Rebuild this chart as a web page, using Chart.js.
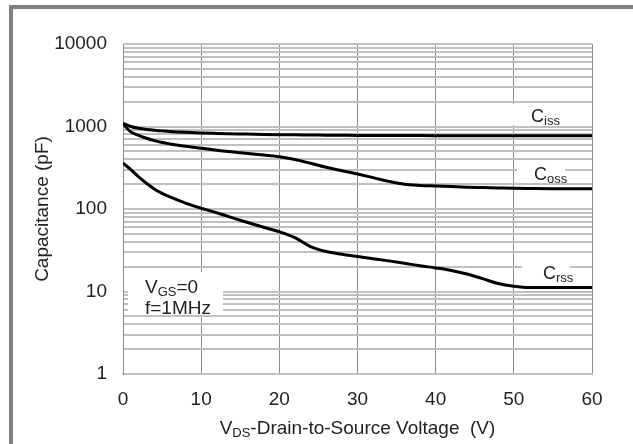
<!DOCTYPE html>
<html>
<head>
<meta charset="utf-8">
<script src="https://cdn.jsdelivr.net/npm/chart.js@4.4.0/dist/chart.umd.min.js"></script>
<style>
body { margin: 0; background: #fff; }
#wrap { position: relative; width: 633px; height: 444px; }
</style>
</head>
<body>
<div id="wrap"><canvas id="chart" width="633" height="444"></canvas></div>
<script>
// drain-source voltage (V)
var voltage = [0, 1, 2, 3, 4, 5, 6, 8, 10, 12, 15, 18, 20, 22, 24, 26, 28, 30, 32, 34, 36, 38, 40, 42, 44, 46, 48, 50, 52, 55, 60];
// capacitances (pF)
var ciss = [1090, 1000, 950, 920, 900, 885, 870, 850, 835, 825, 812, 800, 795, 792, 788, 786, 783, 780, 779, 778, 777, 776, 775, 774, 773, 772, 771, 770, 770, 770, 770];
var coss = [1080, 860, 780, 720, 675, 640, 615, 575, 545, 515, 480, 450, 430, 398, 358, 320, 291, 265, 240, 216, 199, 193, 190, 187, 184, 182, 180, 178, 177, 176, 176];
var crss = [360, 300, 245, 205, 175, 155, 140, 118, 102, 90, 73, 60, 53, 45, 35, 30.5, 28.3, 26.6, 25, 23.5, 22, 20.5, 19.3, 18, 16.3, 14.3, 12.5, 11.6, 11.2, 11.2, 11.2];

var yTicks = [1, 10, 100, 1000, 10000];
var xStep = 10;

var FONT = "'Liberation Sans', Arial, sans-serif";
var TXT = '#222';

// all log grid lines: 1..9 of each decade
var yGrid = [];
for (var d = 0; d < yTicks.length - 1; d++) {
  for (var k = 1; k < 10; k++) yGrid.push(yTicks[d] * k);
}
yGrid.push(yTicks[yTicks.length - 1]);

function pts(ys) {
  return voltage.map(function (v, i) { return { x: v, y: ys[i] }; });
}

function ds(label, ys) {
  return {
    label: label,
    data: pts(ys),
    borderColor: '#000',
    borderWidth: 3,
    pointRadius: 0,
    fill: false,
    cubicInterpolationMode: 'monotone'
  };
}

// text with subscript parts: [[text, isSub], ...]
function subText(ctx, x, y, parts, size, subSize, align) {
  var w = 0;
  parts.forEach(function (p) {
    ctx.font = (p[1] ? subSize : size) + 'px ' + FONT;
    w += ctx.measureText(p[0]).width;
  });
  var cx = align === 'center' ? x - w / 2 : x;
  parts.forEach(function (p) {
    ctx.font = (p[1] ? subSize : size) + 'px ' + FONT;
    ctx.fillText(p[0], cx, p[1] ? y + 3 : y);
    cx += ctx.measureText(p[0]).width;
  });
}

var notes = {
  id: 'notes',
  beforeDraw: function (chart) {
    var ctx = chart.ctx;
    ctx.save();
    ctx.fillStyle = '#808080';
    ctx.fillRect(9, 5, 624, 4);
    ctx.fillRect(9, 5, 4, 439);
    ctx.restore();
  },
  beforeDatasetsDraw: function (chart) {
    var ctx = chart.ctx;
    ctx.save();
    ctx.fillStyle = '#fff';
    ctx.fillRect(508, 104, 80, 21);
    ctx.fillRect(517, 161, 48, 21);
    ctx.fillRect(522, 258, 48, 26);
    ctx.fillRect(128, 272, 95, 43);
    ctx.fillStyle = TXT;
    ctx.textBaseline = 'alphabetic';
    ctx.textAlign = 'left';
    subText(ctx, 531, 122, [['C', false], ['iss', true]], 18, 13);
    subText(ctx, 534, 180, [['C', false], ['oss', true]], 18, 13);
    subText(ctx, 543, 279, [['C', false], ['rss', true]], 18, 13);
    subText(ctx, 145, 293, [['V', false], ['GS', true], ['=0', false]], 19, 13);
    subText(ctx, 145, 314, [['f=1MHz', false]], 19, 13);
    var a = chart.chartArea;
    subText(ctx, (a.left + a.right) / 2, 434,
      [['V', false], ['DS', true], ['-Drain-to-Source Voltage  (V)', false]], 19, 13, 'center');
    ctx.restore();
  }
};

var ctx = document.getElementById('chart');
new Chart(ctx, {
  type: 'line',
  data: {
    datasets: [ds('Ciss', ciss), ds('Coss', coss), ds('Crss', crss)]
  },
  options: {
    responsive: false,
    animation: false,
    maintainAspectRatio: false,
    layout: { padding: { top: 44, right: 41, left: 0, bottom: 0 } },
    plugins: {
      legend: { display: false },
      title: { display: false },
      tooltip: { enabled: false }
    },
    scales: {
      x: {
        type: 'linear',
        min: 0,
        max: 60,
        afterFit: function (s) { s.height = 70; },
        grid: { color: '#8c8c8c', lineWidth: 1, drawTicks: false },
        border: { color: '#c0c0c0', width: 2 },
        ticks: {
          stepSize: xStep,
          padding: 14,
          color: TXT,
          font: { family: FONT, size: 19 }
        }
      },
      y: {
        type: 'logarithmic',
        min: 1,
        max: 10000,
        afterFit: function (s) { s.width = 123; },
        afterBuildTicks: function (s) {
          s.ticks = yGrid.map(function (v) { return { value: v }; });
        },
        grid: { color: '#c0c0c0', lineWidth: 2, drawTicks: false },
        border: { color: '#8c8c8c', width: 1 },
        ticks: {
          autoSkip: false,
          padding: 16,
          color: TXT,
          font: { family: FONT, size: 19 },
          callback: function (v) { return yTicks.indexOf(v) >= 0 ? String(v) : ''; }
        },
        title: {
          display: true,
          text: 'Capacitance (pF)',
          color: TXT,
          font: { family: FONT, size: 19 },
          padding: { top: 31, bottom: 0 }
        }
      }
    }
  },
  plugins: [notes]
});
</script>
</body>
</html>
